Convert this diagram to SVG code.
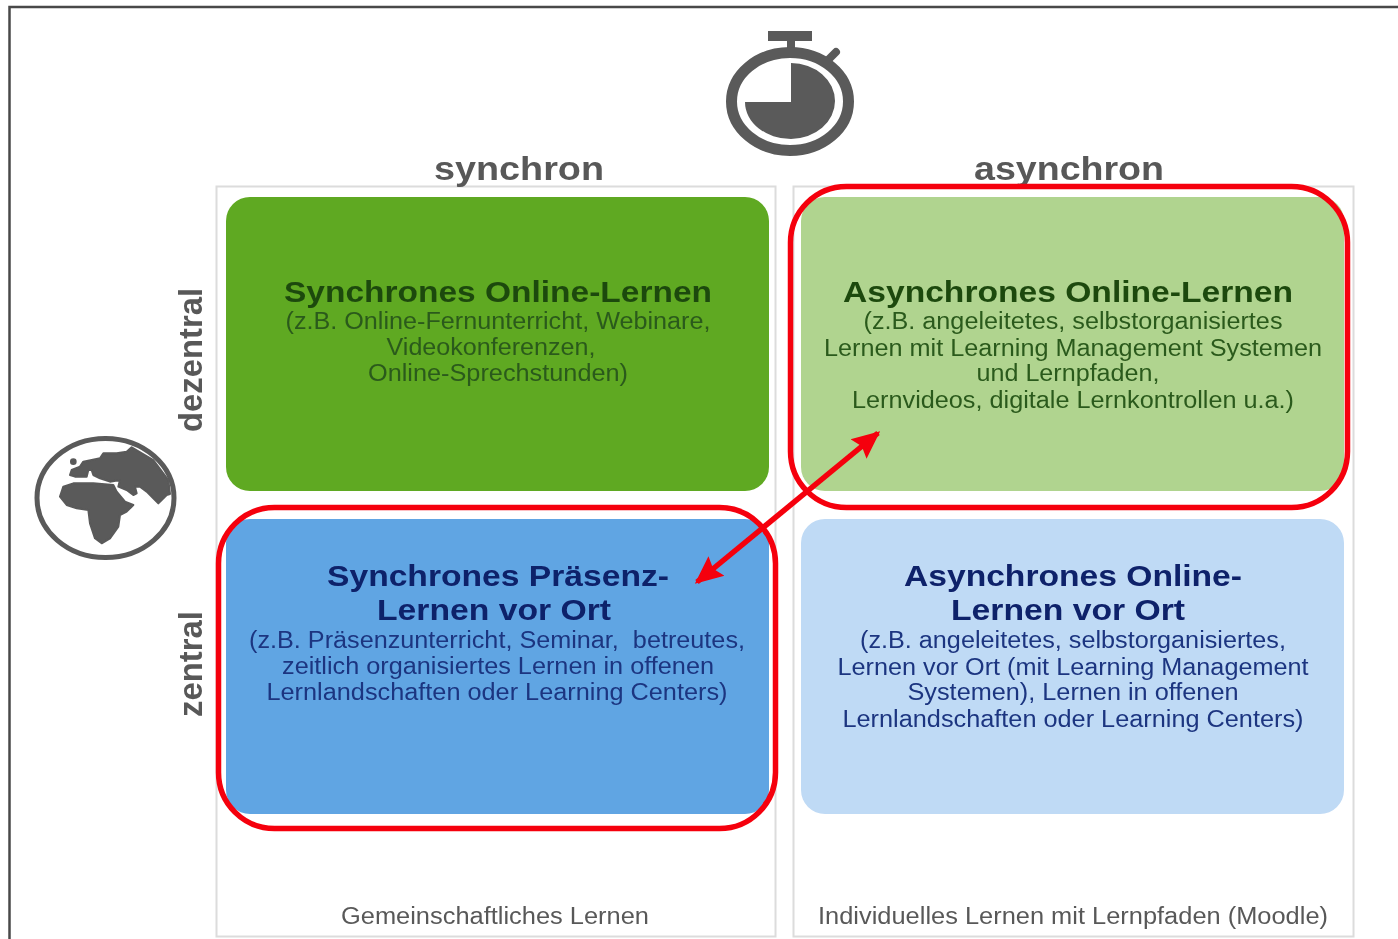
<svg xmlns="http://www.w3.org/2000/svg" width="1398" height="939" viewBox="0 0 1398 939">
<style>
text{font-family:"Liberation Sans",Arial,sans-serif;text-anchor:middle}
.h{font-weight:bold;font-size:29px}
.b{font-size:23px}
.ax{font-weight:bold;font-size:33px;fill:#595959}
.ft{font-size:23px;fill:#595959}
.g{fill:#1f4a10}.lg{fill:#2b5a1c}.n{fill:#10206a}.nb{fill:#1c3580}
.cell{fill:#fff;stroke:#dcdcdc;stroke-width:2}
.ring{fill:none;stroke:#f5000c;stroke-width:5.5}
.ic{fill:#5a5a5a}
</style>
<defs>
<marker id="ah" viewBox="0 0 10 10" refX="9" refY="5" markerWidth="28" markerHeight="28" markerUnits="userSpaceOnUse" orient="auto-start-reverse"><path d="M0,0.500L10,5L0,9.500L1.500,5Z" fill="#f5000c"/></marker>
<filter id="soft" x="0" y="0" width="1" height="1" filterUnits="objectBoundingBox"><feGaussianBlur stdDeviation="0.6"/></filter>
</defs>
<rect width="1398" height="939" fill="#fff"/>
<g filter="url(#soft)">
<rect width="1398" height="939" fill="#fff"/>
<path id="frame" d="M9.500,939V7H1398" fill="none" stroke="#4a4a4a" stroke-width="2.500"/>
<g id="columns">
<rect class="cell" x="216.500" y="186.500" width="559" height="750"/>
<rect class="cell" x="793.500" y="186.500" width="560" height="750"/>
</g>
<g id="stopwatch">
<rect class="ic" x="768" y="31" width="44" height="10"/>
<rect class="ic" x="787" y="40" width="8" height="9"/>
<path d="M828,60L836,52" stroke="#5a5a5a" stroke-width="8" stroke-linecap="round"/>
<ellipse cx="790" cy="101.500" rx="58.500" ry="49" fill="none" stroke="#5a5a5a" stroke-width="11"/>
<path class="ic" d="M791,63A44,38 0 0 1 791,139A46,37 0 0 1 745,102L791,102Z"/>
<text class="ax" x="519" y="180" textLength="170" lengthAdjust="spacingAndGlyphs">synchron</text>
<text class="ax" x="1069" y="180" textLength="190" lengthAdjust="spacingAndGlyphs">asynchron</text>
</g>
<g id="globe">
<ellipse cx="105.500" cy="498" rx="68.500" ry="59.500" fill="none" stroke="#5a5a5a" stroke-width="5"/>
<g transform="translate(20,420) scale(0.3333)" class="ic" stroke="#5a5a5a" stroke-width="6" stroke-linejoin="round">
<path d="M335,82L400,120L445,180L450,222L440,225L425,240L415,250L400,235L380,215L360,200L345,200L350,220L340,225L320,210L295,200L300,180L270,185L240,175L220,165L215,150L205,150L200,170L165,170L150,165L155,150L180,140L190,125L240,115L250,100L290,100L320,95Z"/>
<path d="M130,200L160,190L220,190L280,195L290,215L315,245L340,255L320,275L300,285L295,320L270,355L245,370L225,355L210,310L205,270L170,265L140,255L120,230Z"/>
<circle cx="160" cy="125" r="7"/>
</g>
<text class="ax" transform="translate(202,360) rotate(-90)" textLength="144" lengthAdjust="spacingAndGlyphs">dezentral</text>
<text class="ax" transform="translate(202,664) rotate(-90)" textLength="106" lengthAdjust="spacingAndGlyphs">zentral</text>
</g>
<g id="q1">
<rect x="226" y="197" width="543" height="294" rx="24" fill="#5fa920"/>
<text class="h g" x="498" y="302" textLength="428" lengthAdjust="spacingAndGlyphs">Synchrones Online-Lernen</text>
<text class="b lg" x="498" y="329" textLength="425" lengthAdjust="spacingAndGlyphs">(z.B. Online-Fernunterricht, Webinare,</text>
<text class="b lg" x="491" y="355" textLength="209" lengthAdjust="spacingAndGlyphs">Videokonferenzen,</text>
<text class="b lg" x="498" y="381" textLength="260" lengthAdjust="spacingAndGlyphs">Online-Sprechstunden)</text>
</g>
<g id="q2">
<rect x="801" y="197" width="543" height="294" rx="24" fill="#b0d48f"/>
<text class="h g" x="1068" y="302" textLength="450" lengthAdjust="spacingAndGlyphs">Asynchrones Online-Lernen</text>
<text class="b lg" x="1073" y="329" textLength="419" lengthAdjust="spacingAndGlyphs">(z.B. angeleitetes, selbstorganisiertes</text>
<text class="b lg" x="1073" y="356" textLength="498" lengthAdjust="spacingAndGlyphs">Lernen mit Learning Management Systemen</text>
<text class="b lg" x="1068" y="381" textLength="183" lengthAdjust="spacingAndGlyphs">und Lernpfaden,</text>
<text class="b lg" x="1073" y="408" textLength="442" lengthAdjust="spacingAndGlyphs">Lernvideos, digitale Lernkontrollen u.a.)</text>
</g>
<g id="q3">
<rect x="226" y="519" width="543" height="295" rx="24" fill="#60a5e3"/>
<text class="h n" x="498" y="586" textLength="342" lengthAdjust="spacingAndGlyphs">Synchrones Präsenz-</text>
<text class="h n" x="494" y="620" textLength="234" lengthAdjust="spacingAndGlyphs">Lernen vor Ort</text>
<text class="b nb" x="497" y="648" textLength="496" lengthAdjust="spacingAndGlyphs" xml:space="preserve">(z.B. Präsenzunterricht, Seminar,  betreutes,</text>
<text class="b nb" x="498" y="674" textLength="432" lengthAdjust="spacingAndGlyphs">zeitlich organisiertes Lernen in offenen</text>
<text class="b nb" x="497" y="700" textLength="461" lengthAdjust="spacingAndGlyphs">Lernlandschaften oder Learning Centers)</text>
</g>
<g id="q4">
<rect x="801" y="519" width="543" height="295" rx="24" fill="#bfdaf5"/>
<text class="h n" x="1073" y="586" textLength="338" lengthAdjust="spacingAndGlyphs">Asynchrones Online-</text>
<text class="h n" x="1068" y="620" textLength="234" lengthAdjust="spacingAndGlyphs">Lernen vor Ort</text>
<text class="b nb" x="1073" y="648" textLength="426" lengthAdjust="spacingAndGlyphs">(z.B. angeleitetes, selbstorganisiertes,</text>
<text class="b nb" x="1073" y="675" textLength="471" lengthAdjust="spacingAndGlyphs">Lernen vor Ort (mit Learning Management</text>
<text class="b nb" x="1073" y="700" textLength="331" lengthAdjust="spacingAndGlyphs">Systemen), Lernen in offenen</text>
<text class="b nb" x="1073" y="727" textLength="461" lengthAdjust="spacingAndGlyphs">Lernlandschaften oder Learning Centers)</text>
</g>
<text class="ft" x="495" y="924" textLength="308" lengthAdjust="spacingAndGlyphs">Gemeinschaftliches Lernen</text>
<text class="ft" x="1073" y="924" textLength="510" lengthAdjust="spacingAndGlyphs">Individuelles Lernen mit Lernpfaden (Moodle)</text>
<g id="connectors">
<rect class="ring" x="790.500" y="186.500" width="557" height="321" rx="56"/>
<rect class="ring" x="218.500" y="507.500" width="557" height="321" rx="56"/>
<path d="M878,433L697,582" stroke="#f5000c" stroke-width="5.500" fill="none" marker-start="url(#ah)" marker-end="url(#ah)"/>
</g>
</g>
</svg>
